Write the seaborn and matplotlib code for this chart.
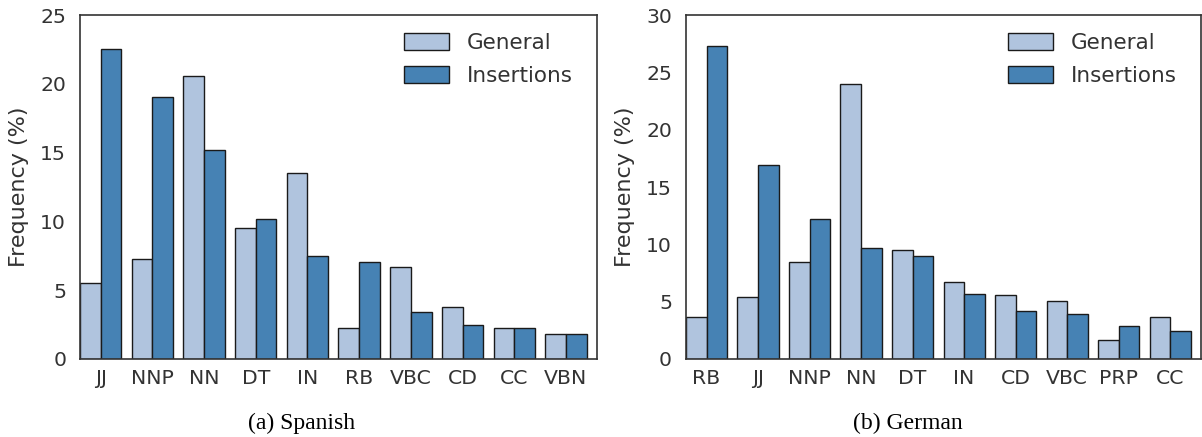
import pandas as pd
import matplotlib.pyplot as plt
import seaborn as sns

# POS tag frequencies (%)
spanish_tags = ["JJ", "NNP", "NN", "DT", "IN", "RB", "VBC", "CD", "CC", "VBN"]
spanish_general = [5.5, 7.3, 20.6, 9.5, 13.5, 2.25, 6.7, 3.8, 2.25, 1.8]
spanish_insertions = [22.5, 19.05, 15.2, 10.2, 7.5, 7.05, 3.4, 2.5, 2.25, 1.8]

german_tags = ["RB", "JJ", "NNP", "NN", "DT", "IN", "CD", "VBC", "PRP", "CC"]
german_general = [3.65, 5.4, 8.5, 23.95, 9.55, 6.75, 5.55, 5.1, 1.65, 3.65]
german_insertions = [27.3, 16.95, 12.25, 9.7, 9.0, 5.65, 4.15, 3.9, 2.85, 2.45]

series_names = ["General", "Insertions"]
colors = ["lightsteelblue", "steelblue"]


def to_long(tags, general, insertions):
    df = pd.DataFrame({"tag": tags, "General": general, "Insertions": insertions})
    return df.melt(id_vars="tag", var_name="series", value_name="freq")


def main():
    sns.set_theme(style="white", rc={"axes.edgecolor": ".2", "axes.linewidth": 1.2,
                                     "text.color": ".2", "xtick.color": ".2",
                                     "ytick.color": ".2", "axes.labelcolor": ".2"})
    plt.rcParams["font.family"] = ["DejaVu Sans"]

    fig = plt.figure(figsize=(12.02, 4.37), dpi=100)
    ax1 = fig.add_axes([0.0666, 0.1785, 0.430, 0.787])
    ax2 = fig.add_axes([0.5707, 0.1785, 0.4285, 0.787])

    panels = [
        (ax1, to_long(spanish_tags, spanish_general, spanish_insertions), spanish_tags, 25,
         "(a) Spanish", 0.251),
        (ax2, to_long(german_tags, german_general, german_insertions), german_tags, 30,
         "(b) German", 0.755),
    ]

    for ax, df, order, ymax, caption, cx in panels:
        sns.barplot(data=df, x="tag", y="freq", hue="series", order=order,
                    hue_order=series_names, palette=colors, width=0.8,
                    edgecolor=".1", linewidth=1.0, saturation=1, ax=ax)
        ax.set_xlim(-0.4, 9.6)
        ax.set_ylim(0, ymax)
        ax.set_yticks(range(0, ymax + 1, 5))
        ax.set_xlabel("")
        ax.set_ylabel("Frequency (%)", fontsize=16)
        ax.yaxis.set_label_coords(-0.099, 0.5)
        ax.tick_params(labelsize=14.7, length=0)
        ax.tick_params(axis="x", pad=7)
        ax.tick_params(axis="y", pad=10)
        for side in ["top", "right", "left", "bottom"]:
            ax.spines[side].set_visible(True)
        ax.legend(loc="upper right", bbox_to_anchor=(0.983, 0.991), fontsize=15.5,
                  frameon=False, handlelength=2.1, handleheight=0.84, labelspacing=0.6,
                  handletextpad=0.84, borderaxespad=0.3)
        fig.text(cx, 0.032, caption, ha="center", va="center",
                 fontsize=17, family="Liberation Serif", color="black")

    fig.savefig("out.png", dpi=100)


if __name__ == "__main__":
    main()
